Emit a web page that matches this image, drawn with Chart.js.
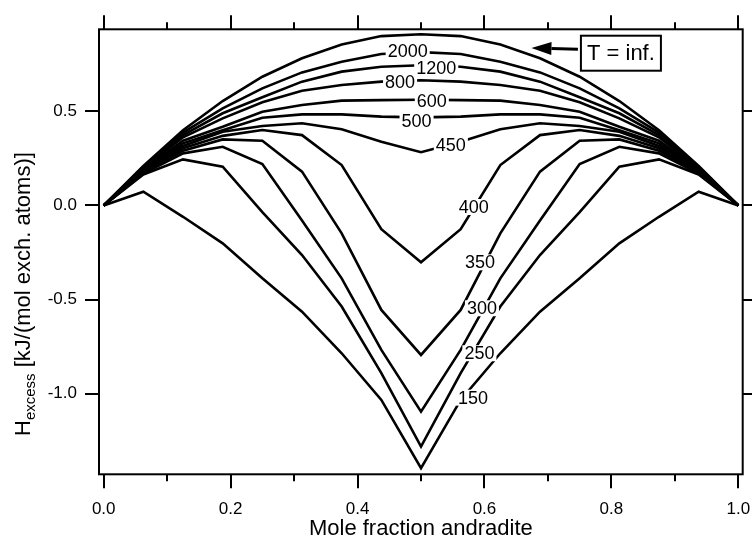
<!DOCTYPE html>
<html>
<head>
<meta charset="utf-8">
<script src="https://cdn.jsdelivr.net/npm/chart.js@4.4.0/dist/chart.umd.min.js"></script>
<style>
  html, body { margin: 0; padding: 0; background: #fff; }
  #wrap { width: 752px; height: 541px; position: relative; }
</style>
</head>
<body>
<div id="wrap"><canvas id="hex"></canvas></div>
<script>
const FONT = '"Liberation Sans", Arial, Helvetica, sans-serif';

// composition grid, mole fraction andradite (steps of 1/16)
const xFrac = [0, 0.0625, 0.125, 0.1875, 0.25, 0.3125, 0.375, 0.4375, 0.5,
               0.5625, 0.625, 0.6875, 0.75, 0.8125, 0.875, 0.9375, 1];

// excess enthalpy, kJ/(mol exch. atoms), one curve per temperature
const hInf  = [0, 0.21, 0.40, 0.555, 0.684, 0.782, 0.855, 0.90, 0.91, 0.90, 0.855, 0.782, 0.684, 0.555, 0.40, 0.21, 0];
const h2000 = [0, 0.205, 0.387, 0.516, 0.622, 0.707, 0.764, 0.805, 0.815, 0.805, 0.764, 0.707, 0.622, 0.516, 0.387, 0.205, 0];
const h1200 = [0, 0.20, 0.374, 0.49, 0.575, 0.658, 0.711, 0.737, 0.745, 0.737, 0.711, 0.658, 0.575, 0.49, 0.374, 0.20, 0];
const h800  = [0, 0.195, 0.362, 0.463, 0.548, 0.61, 0.64, 0.658, 0.665, 0.658, 0.64, 0.61, 0.548, 0.463, 0.362, 0.195, 0];
const h600  = [0, 0.19, 0.344, 0.418, 0.498, 0.534, 0.557, 0.56, 0.562, 0.56, 0.557, 0.534, 0.498, 0.418, 0.344, 0.19, 0];
const h500  = [0, 0.185, 0.33, 0.40, 0.466, 0.484, 0.484, 0.472, 0.468, 0.472, 0.484, 0.484, 0.466, 0.40, 0.33, 0.185, 0];
const h450  = [0, 0.18, 0.316, 0.392, 0.422, 0.437, 0.405, 0.339, 0.283, 0.339, 0.405, 0.437, 0.422, 0.392, 0.316, 0.18, 0];
const h400  = [0, 0.178, 0.304, 0.37, 0.401, 0.374, 0.215, -0.126, -0.302, -0.126, 0.215, 0.374, 0.401, 0.37, 0.304, 0.178, 0];
const h350  = [0, 0.175, 0.291, 0.351, 0.344, 0.18, -0.148, -0.555, -0.794, -0.555, -0.148, 0.18, 0.344, 0.351, 0.291, 0.175, 0];
const h300  = [0, 0.17, 0.277, 0.312, 0.22, -0.08, -0.387, -0.767, -1.095, -0.767, -0.387, -0.08, 0.22, 0.312, 0.277, 0.17, 0];
const h250  = [0, 0.165, 0.245, 0.206, -0.035, -0.263, -0.537, -0.89, -1.281, -0.89, -0.537, -0.263, -0.035, 0.206, 0.245, 0.165, 0];
const h150  = [0, 0.073, -0.06, -0.201, -0.387, -0.564, -0.785, -1.033, -1.396, -1.033, -0.785, -0.564, -0.387, -0.201, -0.06, 0.073, 0];

const curves = [hInf, h2000, h1200, h800, h600, h500, h450, h400, h350, h300, h250, h150];

// in-line temperature labels (data coordinates)
const labelText = ['2000', '1200', '800', '600', '500', '450', '400', '350', '300', '250', '150'];
const labelX    = [0.479, 0.524, 0.467, 0.517, 0.493, 0.547, 0.583, 0.593, 0.596, 0.592, 0.582];
const labelY    = [0.822, 0.729, 0.658, 0.555, 0.449, 0.321, -0.008, -0.302, -0.546, -0.785, -1.021];

// "T = inf." callout: box centre and arrow tip
const calloutText = 'T = inf.';
const calloutBox = [0.815, 0.809];
const calloutTip = [0.674, 0.836];

const xMajor = [0, 0.2, 0.4, 0.6, 0.8, 1.0];
const xMinor = [0.1, 0.3, 0.5, 0.7, 0.9];
const yMajor = [-1.0, -0.5, 0, 0.5];

const datasets = curves.map(vals => ({
  data: xFrac.map((x, i) => ({ x: x, y: vals[i] })),
  borderColor: '#000',
  borderWidth: 2.6,
  borderJoinStyle: 'miter',
  pointRadius: 0,
  tension: 0,
  fill: false
}));

const decor = {
  id: 'decor',
  afterDatasetsDraw(chart) {
    const { ctx, scales: { x, y } } = chart;
    ctx.save();
    ctx.font = '18px ' + FONT;
    ctx.textAlign = 'center';
    ctx.textBaseline = 'middle';
    labelText.forEach((t, i) => {
      const px = x.getPixelForValue(labelX[i]);
      const py = y.getPixelForValue(labelY[i]);
      const w = ctx.measureText(t).width + 4;
      ctx.fillStyle = '#fff';
      ctx.fillRect(px - w / 2, py - 8, w, 16);
      ctx.fillStyle = '#000';
      ctx.fillText(t, px, py + 1);
    });
    ctx.restore();
  },
  afterDraw(chart) {
    const { ctx, chartArea: a, scales: { x, y } } = chart;
    ctx.save();
    ctx.strokeStyle = '#000';
    ctx.lineWidth = 2;
    ctx.strokeRect(a.left, a.top, a.right - a.left, a.bottom - a.top);

    // ticks on all four sides, pointing outward
    ctx.beginPath();
    const xt = (v, len) => {
      const px = Math.round(x.getPixelForValue(v));
      ctx.moveTo(px, a.bottom); ctx.lineTo(px, a.bottom + len);
      ctx.moveTo(px, a.top); ctx.lineTo(px, a.top - len);
    };
    xMajor.forEach(v => xt(v, 14));
    xMinor.forEach(v => xt(v, 7));
    yMajor.forEach(v => {
      const py = Math.round(y.getPixelForValue(v));
      ctx.moveTo(a.left, py); ctx.lineTo(a.left - 14, py);
      ctx.moveTo(a.right, py); ctx.lineTo(a.right + 14, py);
    });
    ctx.stroke();

    // axis titles
    ctx.fillStyle = '#000';
    ctx.font = '22px ' + FONT;
    ctx.textAlign = 'center';
    ctx.textBaseline = 'alphabetic';
    ctx.fillText('Mole fraction andradite', (a.left + a.right) / 2, 535);

    ctx.save();
    ctx.translate(30, 436);
    ctx.rotate(-Math.PI / 2);
    ctx.textAlign = 'left';
    ctx.font = '22px ' + FONT;
    ctx.fillText('H', 0, 0);
    let off = ctx.measureText('H').width;
    ctx.font = '15px ' + FONT;
    ctx.fillText('excess', off, 5);
    off += ctx.measureText('excess').width;
    ctx.font = '22px ' + FONT;
    ctx.fillText(' [kJ/(mol exch. atoms)]', off, 0);
    ctx.restore();

    // callout box with arrow
    const bx = x.getPixelForValue(calloutBox[0]);
    const by = y.getPixelForValue(calloutBox[1]);
    const tx = x.getPixelForValue(calloutTip[0]);
    const ty = y.getPixelForValue(calloutTip[1]);
    const bw = 80, bh = 35;
    ctx.fillStyle = '#fff';
    ctx.fillRect(bx - bw / 2, by - bh / 2, bw, bh);
    ctx.lineWidth = 2;
    ctx.strokeRect(bx - bw / 2, by - bh / 2, bw, bh);
    ctx.fillStyle = '#000';
    ctx.font = '22px ' + FONT;
    ctx.textAlign = 'center';
    ctx.textBaseline = 'middle';
    ctx.fillText(calloutText, bx, by + 1);

    const sx = bx - bw / 2 - 3, sy = by - 4;
    const ang = Math.atan2(ty - sy, tx - sx);
    const head = 20, half = 6.5;
    const hx = tx - head * Math.cos(ang), hy = ty - head * Math.sin(ang);
    ctx.lineWidth = 3;
    ctx.beginPath();
    ctx.moveTo(sx, sy); ctx.lineTo(hx, hy);
    ctx.stroke();
    ctx.beginPath();
    ctx.moveTo(tx, ty);
    ctx.lineTo(hx + half * Math.sin(ang), hy - half * Math.cos(ang));
    ctx.lineTo(hx - half * Math.sin(ang), hy + half * Math.cos(ang));
    ctx.closePath();
    ctx.fill();
    ctx.restore();
  }
};

new Chart(document.getElementById('hex'), {
  type: 'line',
  data: { datasets: datasets },
  options: {
    responsive: true,
    maintainAspectRatio: false,
    animation: false,
    layout: { padding: { top: 29.3, right: 9.3, left: 0, bottom: 0 } },
    plugins: { legend: { display: false }, tooltip: { enabled: false } },
    scales: {
      x: {
        type: 'linear',
        min: -0.0074,
        max: 1.0069,
        afterBuildTicks: s => { s.ticks = xMajor.map(v => ({ value: v })); },
        // fixed axis height; the "1.0" label may hang past the plot edge
        afterFit: s => { s.height = 66.7; s.paddingLeft = 0; s.paddingRight = 0; },
        ticks: {
          callback: v => v.toFixed(1),
          font: { size: 17, family: FONT },
          color: '#000',
          padding: 11,
          maxRotation: 0,
          autoSkip: false
        },
        grid: { drawOnChartArea: false, drawTicks: true, tickLength: 14, tickColor: 'rgba(0,0,0,0)' },
        border: { display: false }
      },
      y: {
        type: 'linear',
        min: -1.428,
        max: 0.936,
        afterBuildTicks: s => { s.ticks = yMajor.map(v => ({ value: v })); },
        afterFit: s => { s.width = 99; s.paddingTop = 0; s.paddingBottom = 0; },
        ticks: {
          callback: v => v.toFixed(1),
          font: { size: 17, family: FONT },
          color: '#000',
          padding: 8,
          autoSkip: false
        },
        grid: { drawOnChartArea: false, drawTicks: true, tickLength: 14, tickColor: 'rgba(0,0,0,0)' },
        border: { display: false }
      }
    }
  },
  plugins: [decor]
});
</script>
</body>
</html>
